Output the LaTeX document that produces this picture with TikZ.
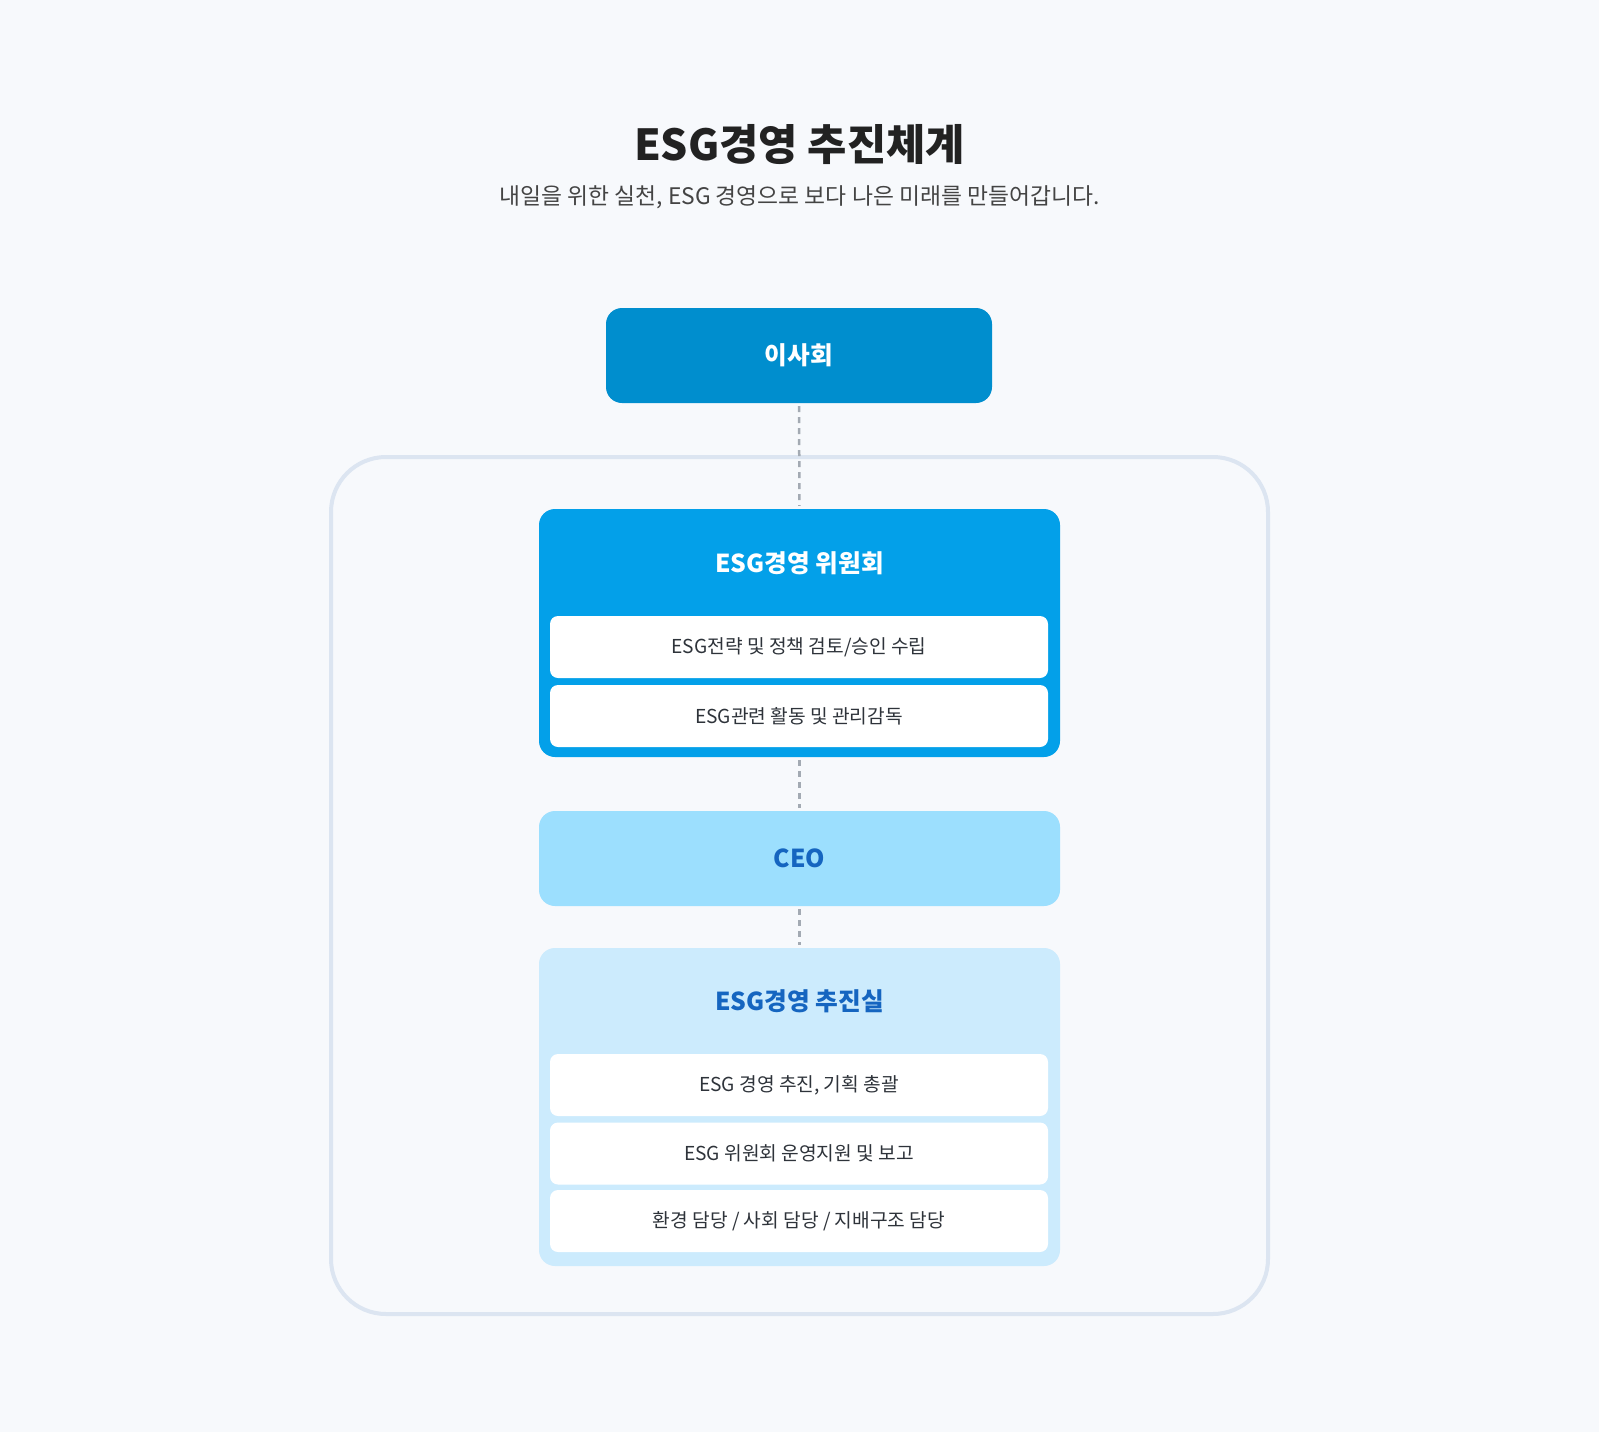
\documentclass[tikz,border=0pt]{standalone}
\usepackage{fontspec}
\setmainfont{Noto Sans CJK KR}
\definecolor{bgc}{HTML}{F7F9FC}
\definecolor{boardc}{HTML}{008ECE}
\definecolor{commc}{HTML}{03A0E9}
\definecolor{ceoc}{HTML}{9CDFFE}
\definecolor{officec}{HTML}{CCEBFD}
\definecolor{darkblue}{HTML}{1565C0}
\definecolor{framec}{HTML}{DCE5F1}
\definecolor{dashc}{HTML}{A3AAB3}
\definecolor{titlec}{HTML}{222222}
\definecolor{subc}{HTML}{444444}
\definecolor{itemtext}{HTML}{2E333A}
\begin{document}
\begin{tikzpicture}[x=1pt,y=-1pt,
  box/.style={rounded corners=16pt, inner sep=0pt, minimum width=521pt, draw=none},
  item/.style={rounded corners=8pt, fill=white, inner sep=0pt, minimum width=498pt, minimum height=62pt,
     font=\fontsize{19.2}{23}\selectfont, text=itemtext},
  boxlabel/.style={font=\fontsize{24.7}{29}\selectfont\bfseries, inner sep=0pt},
  link/.style={draw=dashc, line width=2.5pt, dash pattern=on 6pt off 5pt, shorten >=3pt, shorten <=3pt}]
\fill[bgc] (0,0) rectangle (1599,1432);
\useasboundingbox (0,0) rectangle (1599,1432);
% title
\node[font=\fontsize{42.7}{50}\selectfont\bfseries, text=titlec, inner sep=0pt] (title) at (799.5,145) {ESG경영 추진체계};
\node[font=\fontsize{22.8}{27}\selectfont, text=subc, inner sep=0pt] (sub) at (799.5,197) {내일을 위한 실천, ESG 경영으로 보다 나은 미래를 만들어갑니다.};
% container
\node[draw=framec, line width=4pt, rounded corners=55pt, minimum width=937pt, minimum height=857pt, inner sep=0pt] (frame) at (799.5,885.5) {};
% board
\node[box, fill=boardc, minimum width=386pt, minimum height=95pt] (board) at (799,355.5) {};
\node[boxlabel, text=white] (boardlbl) at (board.center) {이사회};
% committee
\node[box, fill=commc, minimum height=248pt] (comm) at (799.5,633) {};
\node[boxlabel, text=white] (commlbl) at (799.5,563) {ESG경영 위원회};
\node[item] (c1) at (799,647) {ESG전략 및 정책 검토/승인 수립};
\node[item] (c2) at (799,716) {ESG관련 활동 및 관리감독};
% CEO
\node[box, fill=ceoc, minimum height=95pt] (ceo) at (799.5,858.5) {};
\node[boxlabel, text=darkblue] (ceolbl) at (ceo.center) {CEO};
% office
\node[box, fill=officec, minimum height=318pt] (office) at (799.5,1107) {};
\node[boxlabel, text=darkblue] (officelbl) at (799.5,1001) {ESG경영 추진실};
\node[item] (o1) at (799,1085) {ESG 경영 추진, 기획 총괄};
\node[item] (o2) at (799,1153.5) {ESG 위원회 운영지원 및 보고};
\node[item] (o3) at (799,1221) {환경 담당 / 사회 담당 / 지배구조 담당};
% links
\draw[link] (board.south) -- (comm.north);
\draw[link] (comm.south) -- (ceo.north);
\draw[link] (ceo.south) -- (office.north);
\end{tikzpicture}
\end{document}
